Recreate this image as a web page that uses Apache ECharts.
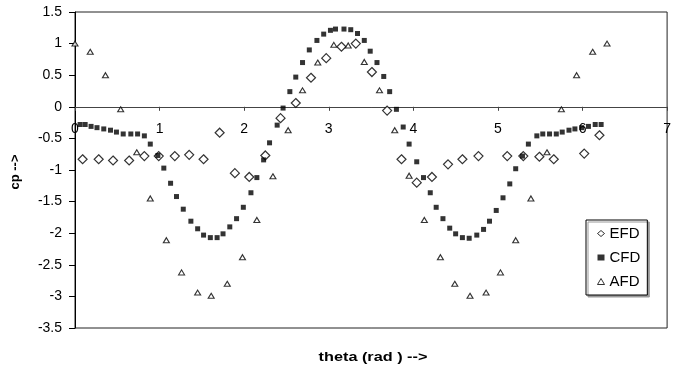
<!DOCTYPE html>
<html>
<head>
<meta charset="utf-8">
<script src="https://cdn.jsdelivr.net/npm/echarts@6/dist/echarts.min.js"></script>
<style>
  html, body { margin: 0; padding: 0; background: #fff; }
  #chart { width: 674px; height: 368px; }
</style>
</head>
<body>
<div id="chart"></div>
<script>
// Pressure coefficient around the cylinder: experiment, CFD and analytical
const efdTheta = [0.09, 0.28, 0.45, 0.64, 0.82, 0.99, 1.18, 1.35, 1.52, 1.71, 1.89, 2.06, 2.25, 2.43, 2.61, 2.79, 2.97, 3.15, 3.32, 3.51, 3.69, 3.86, 4.04, 4.22, 4.41, 4.58, 4.77, 5.11, 5.30, 5.49, 5.66, 6.02, 6.20];
const efdCp = [-0.83, -0.83, -0.85, -0.85, -0.78, -0.78, -0.78, -0.76, -0.83, -0.41, -1.05, -1.11, -0.77, -0.18, 0.06, 0.46, 0.77, 0.95, 1.00, 0.55, -0.06, -0.83, -1.20, -1.11, -0.91, -0.83, -0.78, -0.78, -0.78, -0.79, -0.83, -0.74, -0.45];

const cfdTheta = [0.06, 0.12, 0.19, 0.26, 0.34, 0.42, 0.49, 0.57, 0.66, 0.74, 0.82, 0.89, 0.98, 1.05, 1.13, 1.20, 1.28, 1.37, 1.45, 1.52, 1.60, 1.68, 1.75, 1.83, 1.91, 1.99, 2.08, 2.15, 2.23, 2.30, 2.39, 2.46, 2.54, 2.61, 2.69, 2.77, 2.86, 2.94, 3.02, 3.08,
  3.18, 3.26, 3.34, 3.42, 3.49, 3.57, 3.65, 3.72, 3.80, 3.88, 3.95, 4.04, 4.12, 4.20, 4.27, 4.35, 4.43, 4.50, 4.58, 4.66, 4.75, 4.83, 4.90, 4.98, 5.06, 5.14, 5.21, 5.29, 5.36, 5.46, 5.53, 5.61, 5.69, 5.76, 5.84, 5.91, 5.99, 6.07, 6.15, 6.22];
const cfdCp = [-0.28, -0.28, -0.31, -0.33, -0.35, -0.37, -0.40, -0.43, -0.43, -0.43, -0.46, -0.59, -0.77, -0.97, -1.21, -1.42, -1.62, -1.81, -1.93, -2.03, -2.07, -2.07, -2.01, -1.90, -1.77, -1.59, -1.36, -1.12, -0.84, -0.57, -0.29, -0.02, 0.24, 0.47, 0.70, 0.90, 1.05, 1.15, 1.21, 1.23,
  1.23, 1.22, 1.16, 1.05, 0.88, 0.70, 0.48, 0.24, -0.04, -0.32, -0.59, -0.87, -1.12, -1.36, -1.59, -1.77, -1.92, -2.01, -2.07, -2.08, -2.03, -1.94, -1.81, -1.64, -1.44, -1.22, -0.98, -0.78, -0.59, -0.46, -0.43, -0.43, -0.43, -0.40, -0.37, -0.35, -0.33, -0.31, -0.28, -0.28];

const afdTheta = [0.00, 0.18, 0.36, 0.54, 0.73, 0.89, 1.08, 1.26, 1.45, 1.61, 1.80, 1.98, 2.15, 2.34, 2.52, 2.69, 2.87, 3.06, 3.23, 3.42, 3.60, 3.78, 3.95, 4.13, 4.32, 4.49, 4.67, 4.86, 5.03, 5.21, 5.39, 5.58, 5.75, 5.93, 6.12, 6.29];
const afdCp = [1.00, 0.87, 0.50, -0.04, -0.72, -1.45, -2.11, -2.62, -2.94, -2.99, -2.80, -2.38, -1.79, -1.10, -0.37, 0.26, 0.70, 0.98, 0.97, 0.71, 0.26, -0.37, -1.09, -1.79, -2.38, -2.80, -2.99, -2.94, -2.62, -2.11, -1.45, -0.72, -0.04, 0.50, 0.87, 1.00];

const seriesNames = ['EFD', 'CFD', 'AFD'];
const xTitle = 'theta (rad ) -->';
const yTitle = 'cp -->';

const zip = (xs, ys) => xs.map((x, i) => [x, ys[i]]);
const FONT = '"Liberation Sans", Arial, sans-serif';

// plot box in pixels
const GRID = { left: 75, right: 3, top: 12, bottom: 40 };
const Y_MIN = -3.5, Y_MAX = 1.5;
const plotH = 368 - GRID.top - GRID.bottom;
// lift the theta axis from the bottom edge up to cp = 0
const zeroOffset = -plotH * (0 - Y_MIN) / (Y_MAX - Y_MIN);

const hollow = { color: '#fff', borderColor: '#000', borderWidth: 1 };

const chart = echarts.init(document.getElementById('chart'), null, { renderer: 'canvas' });

chart.setOption({
  animation: false,
  backgroundColor: '#fff',
  grid: Object.assign({
    show: true, borderColor: '#222', borderWidth: 1, backgroundColor: 'transparent'
  }, GRID),
  xAxis: {
    type: 'value', min: 0, max: 7, interval: 1,
    position: 'bottom', offset: zeroOffset,
    axisLine: { onZero: false, lineStyle: { color: '#444', width: 1 } },
    axisTick: { show: true, inside: false, length: 4, lineStyle: { color: '#444' } },
    axisLabel: { margin: 15, color: '#000', fontFamily: FONT, fontSize: 14 },
    splitLine: { show: false }
  },
  yAxis: {
    type: 'value', min: Y_MIN, max: Y_MAX, interval: 0.5,
    axisLine: { show: true, lineStyle: { color: '#000', width: 1 } },
    axisTick: { show: true, inside: false, length: 6, lineStyle: { color: '#000' } },
    axisLabel: { margin: 13, color: '#000', fontFamily: FONT, fontSize: 14 },
    splitLine: { show: false }
  },
  legend: {
    data: [
      { name: seriesNames[0], icon: 'diamond', itemStyle: hollow },
      { name: seriesNames[1], icon: 'rect', itemStyle: { color: '#000', borderWidth: 0 } },
      { name: seriesNames[2], icon: 'triangle', itemStyle: hollow }
    ],
    orient: 'vertical',
    left: 586, top: 220,
    padding: [6, 7, 6, 11],
    itemGap: 9,
    itemWidth: 7, itemHeight: 6,
    selectedMode: false,
    backgroundColor: '#fff',
    borderColor: '#000', borderWidth: 1,
    shadowColor: '#999', shadowBlur: 0, shadowOffsetX: 2, shadowOffsetY: 2,
    textStyle: { fontFamily: FONT, fontSize: 15, color: '#000' }
  },
  series: [
    {
      name: 'EFD', type: 'scatter', data: zip(efdTheta, efdCp),
      symbol: 'diamond', symbolSize: 9,
      itemStyle: { color: '#fff', borderColor: '#000', borderWidth: 1.2 }
    },
    {
      name: 'CFD', type: 'scatter', data: zip(cfdTheta, cfdCp),
      symbol: 'rect', symbolSize: 5,
      itemStyle: { color: '#000' }
    },
    {
      name: 'AFD', type: 'scatter', data: zip(afdTheta, afdCp),
      symbol: 'triangle', symbolSize: [6, 5],
      itemStyle: { color: '#fff', borderColor: '#000', borderWidth: 1.1 }
    }
  ],
  graphic: [
    {
      type: 'text', x: 373, y: 357, scaleX: 1.25,
      style: { text: xTitle, font: 'bold 13px ' + FONT, fill: '#000', textAlign: 'center', textVerticalAlign: 'middle' }
    },
    {
      type: 'text', x: 15, y: 172, rotation: Math.PI / 2,
      style: { text: yTitle, font: 'bold 13px ' + FONT, fill: '#000', textAlign: 'center', textVerticalAlign: 'middle' }
    }
  ]
});
</script>
</body>
</html>
